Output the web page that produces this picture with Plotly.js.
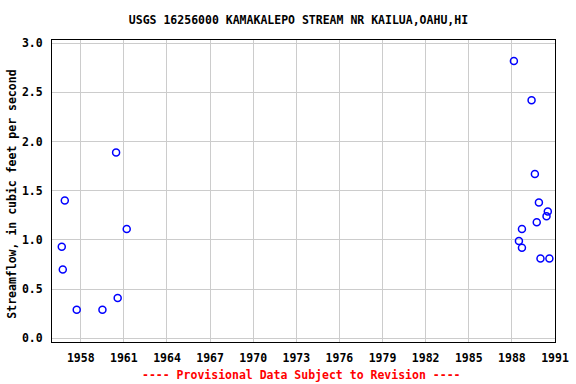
<!DOCTYPE html>
<html>
<head>
<meta charset="utf-8">
<script src="https://cdn.plot.ly/plotly-3.0.1.min.js"></script>
<style>html,body{margin:0;padding:0;background:#fff;}#chart{width:576px;height:384px;}</style>
</head>
<body>
<div id="chart"></div>
<script>
// Decimal year of each measurement and streamflow (cfs)
const years = [1956.68, 1956.75, 1956.89, 1957.72, 1959.51, 1960.46, 1960.57, 1961.20,
               1988.14, 1988.49, 1988.70, 1988.70, 1989.37, 1989.60, 1989.73, 1989.88,
               1989.99, 1990.41, 1990.50, 1990.61];
const flows = [0.93, 0.70, 1.40, 0.29, 0.29, 1.89, 0.41, 1.11,
               2.82, 0.99, 1.11, 0.92, 2.42, 1.67, 1.18, 1.38,
               0.81, 1.24, 1.29, 0.81];
const xTicks = [1958, 1961, 1964, 1967, 1970, 1973, 1976, 1979, 1982, 1985, 1988, 1991];
const yTicks = [0.0, 0.5, 1.0, 1.5, 2.0, 2.5, 3.0];

const mono = "DejaVu Sans Mono, monospace";
const trace = {
  x: years, y: flows, type: 'scatter', mode: 'markers',
  marker: {symbol: 'circle-open', size: 7, color: '#0000ff', line: {color: '#0000ff', width: 1.5}},
  hoverinfo: 'x+y'
};
const layout = {
  width: 576, height: 384,
  margin: {l: 52, r: 21, t: 40, b: 42},
  paper_bgcolor: '#ffffff', plot_bgcolor: '#ffffff',
  showlegend: false,
  title: {text: 'USGS 16256000 KAMAKALEPO STREAM NR KAILUA,OAHU,HI',
          font: {family: mono, size: 11.5, color: '#000', weight: 'bold'},
          xref: 'paper', x: 0.49, xanchor: 'center',
          yref: 'container', y: 1 - 19.5/384, yanchor: 'middle'},
  xaxis: {range: [1956.0, 1991.0], tickvals: xTicks, ticktext: xTicks.map(String),
          showgrid: true, gridcolor: '#cccccc', gridwidth: 1, zeroline: false,
          showline: true, linecolor: '#000', linewidth: 1, mirror: true,
          ticks: 'outside', ticklen: 5, tickcolor: 'rgba(0,0,0,0)',
          tickfont: {family: mono, size: 11.5, color: '#000', weight: 'bold'}},
  yaxis: {range: [-0.038, 3.033], tickvals: yTicks, ticktext: yTicks.map(v => v.toFixed(1)),
          showgrid: true, gridcolor: '#cccccc', gridwidth: 1, zeroline: false,
          showline: true, linecolor: '#000', linewidth: 1, mirror: true,
          ticks: 'outside', ticklen: 6, tickcolor: 'rgba(0,0,0,0)',
          tickfont: {family: mono, size: 11.5, color: '#000', weight: 'bold'}},
  annotations: [
    {text: 'Streamflow, in cubic feet per second', textangle: -90,
     xref: 'paper', yref: 'paper', x: (11.7 - 52) / 503, y: (342 - 194) / 302,
     xanchor: 'center', yanchor: 'middle', showarrow: false,
     font: {family: mono, size: 11.5, color: '#000', weight: 'bold'}},
    {text: '---- Provisional Data Subject to Revision ----',
     xref: 'paper', yref: 'paper', x: (301 - 52) / 503, y: -(375 - 342) / 302,
     xanchor: 'center', yanchor: 'middle', showarrow: false,
     font: {family: mono, size: 11.5, color: '#ff0000', weight: 'bold'}}
  ]
};
Plotly.newPlot('chart', [trace], layout, {displayModeBar: false, staticPlot: true});
</script>
</body>
</html>
